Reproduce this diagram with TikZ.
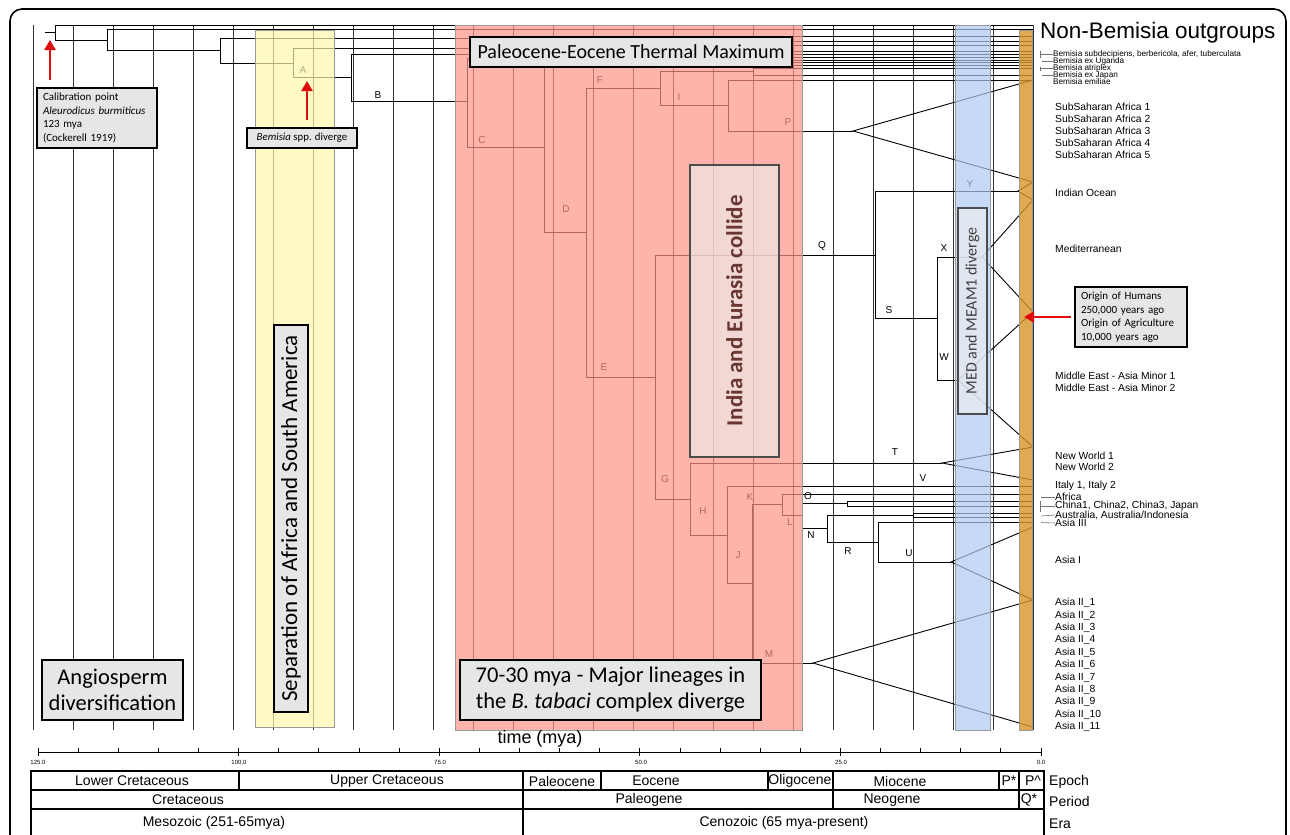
\documentclass[tikz,border=0pt]{standalone}
\usepackage{fontspec}
\setmainfont{Liberation Sans}
\newfontfamily\cali{Carlito}
\usetikzlibrary{arrows.meta}
\definecolor{pinkband}{RGB}{255,148,136}
\definecolor{yelband}{RGB}{255,247,170}
\definecolor{bluband}{RGB}{174,202,245}
\definecolor{orgband}{RGB}{216,149,42}
\definecolor{boxgray}{RGB}{230,230,230}
\definecolor{arrred}{RGB}{224,12,12}
\definecolor{collide}{RGB}{105,55,50}
\newcommand{\fsz}[2]{\fontsize{#1}{#2}\selectfont}

\begin{document}
\begin{tikzpicture}[x=1pt,y=-1pt,
  branch/.style={line width=0.9pt,black},
  gridl/.style={line width=0.9pt,black!80},
  band/.style={draw=black!40,line width=0.8pt,fill opacity=0.7},
  gbox/.style={draw=black,line width=1.2pt,fill=boxgray,inner sep=0pt},
  lett/.style={font=\fsz{10}{12},inner sep=0pt},
  tiplab/.style={anchor=west,inner sep=0pt,font=\fsz{10.3}{12}},
  tinylab/.style={anchor=west,inner sep=0pt,font=\fsz{8.2}{8}},
  cell/.style={font=\fsz{14}{15},inner sep=0pt},
  redarr/.style={-{Triangle[length=10pt,width=11pt]},line width=2.8pt,arrred}]
\useasboundingbox (0,0) rectangle (1290,835);

% time grid, one line per 5 my
\foreach \k in {0,...,25}
  \draw[gridl] (33+40*\k,25) -- (33+40*\k,730);

% tree nodes (x = age, y = middle of the node's bar)
\coordinate (r0) at (55,32.5);
\coordinate (r1) at (107,40);
\coordinate (r2) at (220,50.5);
\coordinate (f2) at (640,38.5);
\coordinate (nA) at (293,63);
\coordinate (fA) at (520,48);
\coordinate (nB) at (351,77);
\coordinate (nC) at (467,101);
\coordinate (fC) at (700,58.5);
\coordinate (nD) at (544,147);
\coordinate (fD) at (760,63.5);
\coordinate (nE) at (586,232.5);
\coordinate (nI) at (660,88);
\coordinate (nF) at (753,71.5);
\coordinate (nP) at (728,105.5);
\coordinate (nSSA) at (853,131);
\coordinate (nG) at (655,377);
\coordinate (nQ) at (875,255);
\coordinate (nIO) at (1018,191);
\coordinate (nS) at (937,318.5);
\coordinate (nX) at (982,257);
\coordinate (nW) at (958,380);
\coordinate (nH) at (690,499);
\coordinate (nT) at (942,463);
\coordinate (nJ) at (727,535);
\coordinate (nK) at (752,583.5);
\coordinate (nM) at (813,663);
\coordinate (nL) at (782,504);
\coordinate (nO) at (802,515);
\coordinate (nCh) at (847,503.5);
\coordinate (nN) at (827,528);
\coordinate (nAu) at (913,515);
\coordinate (nR) at (878,542);
\coordinate (nU) at (951,562);
% tips on the present-day line
\foreach \y in {25,29,36,41,45,51,54,57,60,62,65,68,75,80,486,494,501,506,513,517,522}
  \coordinate (t\y) at (1033,\y);
\foreach \y in {182,200,312,447,480,527,600,727}
  \coordinate (b\y) at (1033,\y);

\draw[branch] (45,32.5) -- (r0);
\foreach \p/\c in {r0/t25,r0/r1,r1/t29,r1/r2,r2/f2,f2/t36,f2/t41,r2/nA,nA/fA,fA/t45,fA/t51,
  nA/nB,nB/t54,nB/nC,nC/fC,fC/t57,fC/t60,nC/nD,nD/fD,fD/t62,fD/t65,nD/nE,
  nE/nI,nE/nG,nI/nF,nF/t68,nF/t75,nI/nP,nP/t80,nP/nSSA,
  nG/nQ,nG/nH,nQ/nIO,nQ/nS,nS/nX,nS/nW,nH/nT,nH/nJ,nJ/t486,nJ/nK,
  nK/nL,nK/nM,nL/t494,nL/nO,nO/nCh,nO/nN,nCh/t501,nCh/t506,
  nN/nAu,nN/nR,nAu/t513,nAu/t517,nR/t522,nR/nU}
  \draw[branch] (\p) |- (\c);
% collapsed clades
\foreach \a/\u/\l in {nSSA/t80/b182,nIO/b182/b200,nX/b200/b312,nW/b312/b447,
  nT/b447/b480,nU/b527/b600,nM/b600/b727}
  \draw[branch] (\u) -- (\a) -- (\l);

% node letters
\foreach \l/\x/\y in {A/303/70,B/378/95,C/482/140,D/566/209,E/604/367,F/600/80,G/665/479,
  H/703/511,I/679/97,J/738/555,K/750/497,L/790/522,M/769/654,N/811/535,O/808/496,
  P/788/122,Q/822/246,R/848/551,S/889/310,T/895/452,U/909/553,V/923/478,W/944/357,
  X/944/248,Y/970/184}
  \node[lett] (lab\l) at (\x,\y) {\l};

% event bands
\draw[band,fill=yelband] (255,30) rectangle (334,727);
\draw[band,fill=pinkband] (455,25) rectangle (802,730);
\draw[band,fill=bluband] (955,25) rectangle (990,730);
\draw[band,fill=orgband,fill opacity=0.8] (1019,30) rectangle (1032,730);

% event boxes
\node[gbox,minimum width=322pt,minimum height=30pt,font=\cali\fsz{20}{24}] (petm) at (631,52)
  {Paleocene-Eocene Thermal Maximum};
\node[draw=black!70,line width=1.5pt,fill=black!8,fill opacity=0.65,text opacity=1,
  text=collide,rotate=90,minimum width=292pt,minimum height=89pt,inner sep=0pt,
  font=\cali\bfseries\fsz{23}{25}] (india) at (734.5,311) {India and Eurasia collide};
\node[draw=black!70,line width=1.5pt,fill=black!8,fill opacity=0.7,text opacity=1,
  text=black!75,rotate=90,minimum width=206pt,minimum height=29pt,inner sep=0pt,
  font=\cali\fsz{16}{18}] (meds) at (972.5,311) {MED and MEAM1 diverge};
\node[gbox,rotate=90,minimum width=387pt,minimum height=34pt,font=\cali\fsz{23}{25}]
  (sep) at (291,518.5) {Separation of Africa and South America};
\node[gbox,minimum width=141pt,minimum height=60pt,align=center,font=\cali\fsz{22.5}{26}]
  (angio) at (112.5,690) {Angiosperm\\diversification};
\node[gbox,minimum width=301pt,minimum height=60pt,align=center,font=\cali\fsz{22.5}{26}]
  (major) at (610.5,690) {70-30 mya - Major lineages in\\the \emph{B. tabaci} complex diverge};
\node[gbox,minimum width=120pt,minimum height=60pt,text width=108pt,align=left,
  font=\cali\fsz{11}{13.5}] (calib) at (97,118)
  {Calibration point\\\emph{Aleurodicus burmiticus}\\123 mya\\(Cockerell 1919)};
\node[gbox,minimum width=110pt,minimum height=20pt,font=\cali\fsz{10.8}{12}] (bspp) at (302,138)
  {\emph{Bemisia} spp. diverge};
\node[gbox,minimum width=112pt,minimum height=60pt,text width=100pt,align=left,
  font=\cali\fsz{11}{13.5}] (origin) at (1131,317)
  {Origin of Humans\\250,000 years ago\\Origin of Agriculture\\10,000 years ago};

% red arrows
\coordinate (calA) at (50,80);
\coordinate (calB) at (50,40);
\coordinate (sppA) at (307,120);
\coordinate (sppB) at (307,81);
\coordinate (hum) at (1024,317);
\draw[redarr] (calA) -- (calB);
\draw[redarr] (sppA) -- (sppB);
\draw[redarr] ([xshift=-3pt]origin.west) -- (hum);

% tip labels
\node[anchor=west,inner sep=0pt,font=\fsz{22.5}{24}] (outg) at (1040,33) {Non-Bemisia outgroups};
\node[tinylab] (bem1) at (1053,54) {Bemisia subdecipiens, berbericola, afer, tuberculata};
\node[tinylab] (bem2) at (1053,61.5) {Bemisia ex Uganda};
\node[tinylab] (bem3) at (1053,68.5) {Bemisia atriplex};
\node[tinylab] (bem4) at (1053,75.5) {Bemisia ex Japan};
\node[tinylab] (bem5) at (1053,82) {Bemisia emiliae};
\draw[black!55,line width=0.6pt] (1040,50.5) -- (1040,57.5) (1040,54) -- (bem1.west);
\draw[black!55,line width=0.6pt] (1042,61.5) -- (bem2.west);
\draw[black!55,line width=0.6pt] (1040,66.5) -- (1040,70.5) (1040,68.5) -- (bem3.west);
\draw[black!55,line width=0.6pt] (1042,75.5) -- (bem4.west);
\foreach \i in {1,...,5}
  \node[tiplab] (ssa\i) at (1055,{95+12*\i}) {SubSaharan Africa \i};
\node[tiplab] (indo) at (1055,193) {Indian Ocean};
\node[tiplab] (med) at (1055,249) {Mediterranean};
\node[tiplab] (me1) at (1055,376) {Middle East - Asia Minor 1};
\node[tiplab] (me2) at (1055,388) {Middle East - Asia Minor 2};
\node[tiplab] (nw1) at (1055,456) {New World 1};
\node[tiplab] (nw2) at (1055,467) {New World 2};
\node[tiplab] (ital) at (1055,486) {Italy 1, Italy 2};
\node[tiplab] (afr) at (1055,497) {Africa};
\node[tiplab] (chin) at (1055,506) {China1, China2, China3, Japan};
\node[tiplab] (aust) at (1055,515) {Australia, Australia/Indonesia};
\node[tiplab] (asia3) at (1055,523) {Asia III};
\node[tiplab] (asia1) at (1055,560) {Asia I};
\foreach \i in {1,...,11}
  \node[tiplab] (asiaII\i) at (1055,{603+12.4*(\i-1)}) {Asia II\_\i};
\draw[black!55,line width=0.6pt] (1041,497) -- (afr.west);
\draw[black!55,line width=0.6pt] (1040,500.5) -- (1040,512) (1040,506) -- (chin.west);
\draw[black!55,line width=0.6pt] (1041,516) -- (aust.west);
\draw[black!55,line width=0.6pt] (1041,522.5) -- (asia3.west);

% time axis
\node[font=\fsz{18}{20},inner sep=0pt] (tlab) at (540,739) {time (mya)};
\draw[line width=0.8pt] (38,752) -- (1041,752);
\foreach \t in {0,...,25}
  \draw[line width=0.8pt] (38+40.12*\t,752) -- ++(0,-4);
\foreach \t in {0,5,...,25}
  \draw[line width=0.8pt] (38+40.12*\t,748) -- ++(0,8);
\foreach \v/\x in {125.0/38,100.0/239,75.0/440,50.0/641,25.0/841,0.0/1041}
  \node[font=\fsz{6}{7},inner sep=0pt] at (\x,762) {\v};

% geological time table
\draw[line width=1.2pt] (31,771) rectangle (1044,900);
\draw[line width=1.2pt] (31,790) -- (1044,790) (31,809) -- (1044,809);
\foreach \x in {239,523,601,768,833,999,1019}
  \draw[line width=1.2pt] (\x,771) -- (\x,790);
\foreach \x in {523,833,1019}
  \draw[line width=1.2pt] (\x,790) -- (\x,809);
\draw[line width=1.2pt] (523,809) -- (523,900);
\foreach \t/\x in {Lower Cretaceous/132,Upper Cretaceous/387,Paleocene/562,Eocene/656,
  Oligocene/800,Miocene/900,P*/1009,P\^{}/1033}
  \node[cell] at (\x,781) {\t};
\foreach \t/\x in {Cretaceous/188,Paleogene/649,Neogene/892,Q*/1029}
  \node[cell] at (\x,800) {\t};
\node[cell] (meso) at (214,823) {Mesozoic (251-65mya)};
\node[cell] (ceno) at (784,823) {Cenozoic (65 mya-present)};
\node[cell,anchor=west] (epo) at (1049,782) {Epoch};
\node[cell,anchor=west] (per) at (1049,801) {Period};
\node[cell,anchor=west] (era) at (1049,824) {Era};

% outer frame
\draw[line width=1.6pt,black,rounded corners=12pt] (10,835) -- (10,9) -- (1286,9) -- (1286,835);
\end{tikzpicture}
\end{document}
